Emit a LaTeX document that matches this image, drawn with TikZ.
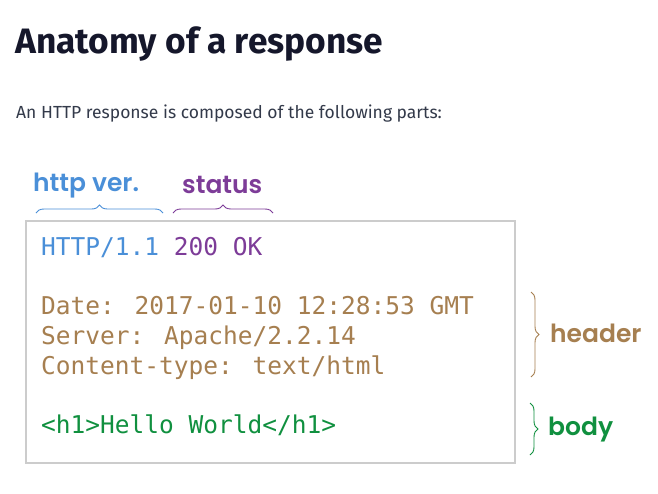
\documentclass[tikz,border=0pt]{standalone}
\usepackage{fontspec}
\setmainfont{Fira Sans}
\newfontfamily\mono{DejaVu Sans Mono}
\newfontfamily\hand{Poppins SemiBold}
\usetikzlibrary{decorations.pathreplacing}
\definecolor{titlecol}{HTML}{15172B}
\definecolor{subcol}{HTML}{333A4A}
\definecolor{boxcol}{HTML}{CCCCCC}
\definecolor{vercol}{HTML}{4A8FD8}
\definecolor{statcol}{HTML}{7D3C98}
\definecolor{headcol}{HTML}{A67F50}
\definecolor{bodycol}{HTML}{10903F}
\tikzset{
  codeline/.style={anchor=base west, inner sep=0pt, font=\mono\fontsize{24.5}{30}\selectfont},
  handlabel/.style={anchor=base west, inner sep=0pt, font=\hand\fontsize{25}{28}\selectfont},
  hbrace/.style={decorate, decoration={brace, amplitude=8pt}, line width=0.9pt},
}
\begin{document}
\begin{tikzpicture}[x=1pt,y=-1pt]
\useasboundingbox[fill=white] (0,0) rectangle (658,493);
\node[anchor=base west, inner sep=0pt, text=titlecol, font=\fontsize{35.3}{40}\selectfont\bfseries] (title) at (15,53) {Anatomy of a response};
\node[anchor=base west, inner sep=0pt, text=subcol, font=\fontsize{17.5}{20}\selectfont] (sub) at (16,118) {An HTTP response is composed of the following parts:};
\draw[boxcol, line width=1.5pt] (26,221) rectangle (515,463);
\coordinate (box) at (26,221);
\node[codeline] (l1) at (41,255) {\textcolor{vercol}{HTTP/1.1} \textcolor{statcol}{200 OK}};
\node[codeline, text=headcol] (l2) at (41,314) {Date: 2017-01-10 12:28:53 GMT};
\node[codeline, text=headcol] (l3) at (41,344) {Server: Apache/2.2.14};
\node[codeline, text=headcol] (l4) at (41,374) {Content-type: text/html};
\node[codeline, text=bodycol] (l5) at (41,433) {<h1>Hello World</h1>};
\node[handlabel, text=vercol] (ver) at (33,191) {http ver.};
\node[handlabel, text=statcol] (stat) at (182,193) {status};
\node[handlabel, text=headcol] (head) at (550,342) {header};
\node[handlabel, text=bodycol] (bod) at (548,435) {body};
\coordinate (v1) at (36,213); \coordinate (v2) at (163,213);
\coordinate (s1) at (173,213); \coordinate (s2) at (273,213);
\coordinate (h1) at (531,292); \coordinate (h2) at (531,377);
\coordinate (b1) at (530,403); \coordinate (b2) at (530,455);
\draw[hbrace, vercol] (v1) -- (v2);
\draw[hbrace, statcol] (s1) -- (s2);
\draw[hbrace, headcol] (h1) -- (h2);
\draw[hbrace, bodycol] (b1) -- (b2);
\end{tikzpicture}
\end{document}
